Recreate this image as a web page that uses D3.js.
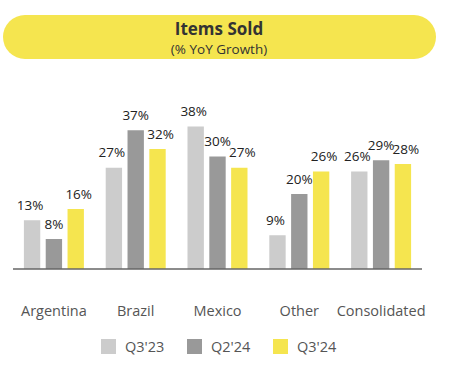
<!DOCTYPE html>
<html>
<head>
<meta charset="utf-8">
<script src="https://cdn.jsdelivr.net/npm/d3@7"></script>
<style>
  body { margin: 0; background: #fff; }
  svg { display: block; font-family: "Open Sans", "Liberation Sans", sans-serif; }
</style>
</head>
<body>
<svg id="chart" width="453" height="369"></svg>
<script>
// data
var categories = ["Argentina", "Brazil", "Mexico", "Other", "Consolidated"]
var seriesNames = ["Q3'23", "Q2'24", "Q3'24"]
var q323 = [13, 27, 38, 9, 26]
var q224 = [8, 37, 30, 20, 29]
var q324 = [16, 32, 27, 26, 28]
var seriesValues = [q323, q224, q324]
var colors = ["#cccccc", "#999999", "#f5e54f"]

var svg = d3.select("#chart")

// title pill
svg.append("rect")
    .attr("x", 3).attr("y", 15)
    .attr("width", 433).attr("height", 44)
    .attr("rx", 22).attr("ry", 22)
    .attr("fill", "#f5e54f")
svg.append("text")
    .attr("x", 219).attr("y", 35)
    .attr("text-anchor", "middle")
    .style("font-size", "17px")
    .style("font-weight", "bold")
    .attr("fill", "#333")
    .text("Items Sold")
svg.append("text")
    .attr("x", 219).attr("y", 53.5)
    .attr("text-anchor", "middle")
    .style("font-size", "13.5px")
    .attr("fill", "#333")
    .text("(% YoY Growth)")

var baseY = 269
var x0 = d3.scaleBand()
    .domain(categories)
    .range([13, 422])
var x1 = d3.scaleBand()
    .domain(seriesNames)
    .range([-30, 30])
    .paddingInner(0.25)
var y = d3.scaleLinear()
    .domain([0, 40])
    .range([baseY, baseY - 150])

var labelShift = [-2, 0, 3]

var groups = svg.append("g")
    .selectAll("g")
    .data(categories)
    .enter().append("g")
    .attr("transform", function(d){ return "translate(" + (x0(d) + x0.bandwidth()/2) + ",0)" })

seriesNames.forEach(function(s, si){
    groups.append("rect")
        .attr("x", x1(s))
        .attr("y", function(d, i){ return y(seriesValues[si][i]) })
        .attr("width", x1.bandwidth())
        .attr("height", function(d, i){ return baseY - y(seriesValues[si][i]) })
        .attr("fill", colors[si])
    groups.append("text")
        .attr("x", x1(s) + x1.bandwidth()/2 + labelShift[si])
        .attr("y", function(d, i){ return y(seriesValues[si][i]) - 10.5 })
        .attr("text-anchor", "middle")
        .style("font-size", "13.5px")
        .attr("fill", "#222")
        .text(function(d, i){ return seriesValues[si][i] + "%" })
})

// baseline
svg.append("line")
    .attr("x1", 13).attr("x2", 422)
    .attr("y1", baseY).attr("y2", baseY)
    .attr("stroke", "#666")
    .attr("stroke-width", 1.5)

// category axis (no line, labels only)
var xAxis = svg.append("g")
    .attr("transform", "translate(0,305.5)")
    .call(d3.axisBottom(x0).tickSize(0).tickPadding(0))
xAxis.select(".domain").remove()
xAxis.selectAll("text")
    .style("font-size", "14.5px")
    .style("font-family", "\"Open Sans\", sans-serif")
    .attr("fill", "#555")

// legend
var legendX = [101, 187, 273]
var legend = svg.append("g")
    .selectAll("g")
    .data(seriesNames)
    .enter().append("g")
    .attr("transform", function(d, i){ return "translate(" + legendX[i] + ",339)" })
legend.append("rect")
    .attr("width", 15).attr("height", 15)
    .attr("fill", function(d, i){ return colors[i] })
legend.append("text")
    .attr("x", 24).attr("y", 12.5)
    .style("font-size", "14.5px")
    .attr("fill", "#555")
    .text(function(d){ return d })
</script>
</body>
</html>
